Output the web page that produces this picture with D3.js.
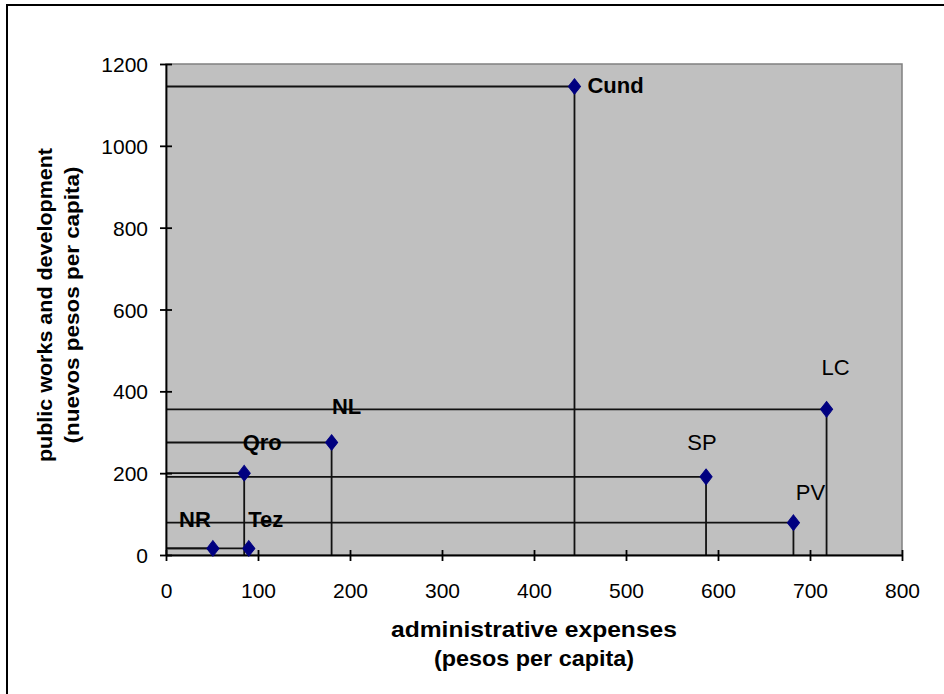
<!DOCTYPE html>
<html>
<head>
<meta charset="utf-8">
<script src="https://cdn.jsdelivr.net/npm/d3@7"></script>
<style>
  html, body { margin: 0; padding: 0; background: #fff; }
  svg { display: block; }
  text { font-family: "Liberation Sans", Arial, sans-serif; fill: #000; }
</style>
</head>
<body>
<svg id="chart" width="944" height="694"></svg>
<script>
// ---- data ----
const names = ["Cund", "LC", "SP", "PV", "NL", "Qro", "NR", "Tez"];
const adminExpenses = [444, 718, 587, 682, 180, 85, 51, 90];
const publicWorks = [1145, 356, 191, 79, 275, 200, 16, 16];
const xTicks = [0, 100, 200, 300, 400, 500, 600, 700, 800];
const yTicks = [0, 200, 400, 600, 800, 1000, 1200];
const xTitle = ["administrative expenses", "(pesos per capita)"];
const yTitle = ["public works and development", "(nuevos pesos per capita)"];

// ---- label styling (offsets from the point, in px) ----
const labelStyle = {
  Cund: { dx: 13, dy: 6, anchor: "start", weight: "bold" },
  LC:   { dx: 9, dy: -34, anchor: "middle", weight: "normal" },
  SP:   { dx: -4, dy: -27, anchor: "middle", weight: "normal" },
  PV:   { dx: 17, dy: -23, anchor: "middle", weight: "normal" },
  NL:   { dx: 15, dy: -28, anchor: "middle", weight: "bold" },
  Qro:  { dx: 18, dy: -23, anchor: "middle", weight: "bold" },
  NR:   { dx: -18, dy: -21, anchor: "middle", weight: "bold" },
  Tez:  { dx: 17, dy: -21, anchor: "middle", weight: "bold" }
};

const svg = d3.select("#chart");
const plot = { left: 166, right: 902, top: 64, bottom: 555 };

// outer chart frame
svg.append("rect")
  .attr("x", 7).attr("y", 5).attr("width", 1000).attr("height", 1000)
  .attr("fill", "none").attr("stroke", "#000").attr("stroke-width", 2);

const x = d3.scaleLinear().domain([0, 800]).range([plot.left, plot.right]);
const y = d3.scaleLinear().domain([0, 1200]).range([plot.bottom, plot.top]);

// plot background
svg.append("rect")
  .attr("x", plot.left).attr("y", plot.top)
  .attr("width", plot.right - plot.left).attr("height", plot.bottom - plot.top)
  .attr("fill", "#c0c0c0").attr("stroke", "#808080").attr("stroke-width", 1.5);

const pts = names.map((n, i) => ({ name: n, x: adminExpenses[i], y: publicWorks[i] }));

// drop lines
const lines = svg.append("g").attr("stroke", "#111").attr("stroke-width", 1.8);
pts.forEach(p => {
  lines.append("line")
    .attr("x1", x(0)).attr("x2", x(p.x))
    .attr("y1", y(p.y)).attr("y2", y(p.y));
  lines.append("line")
    .attr("x1", x(p.x)).attr("x2", x(p.x))
    .attr("y1", y(p.y)).attr("y2", y(0));
});

// axes
const fmt = d3.format("d");
const xAxis = d3.axisBottom(x).tickValues(xTicks).tickFormat(fmt).tickSize(0).tickPadding(0);
const gx = svg.append("g").attr("transform", `translate(0,${plot.bottom})`).call(xAxis);
gx.select(".domain").attr("stroke", "#000").attr("stroke-width", 1.8);
gx.selectAll(".tick line").attr("y1", -5).attr("y2", 6).attr("stroke", "#000").attr("stroke-width", 1.8);
gx.selectAll(".tick text")
  .attr("y", 43).attr("dy", null)
  .style("font-size", "21px").style("font-family", "'Liberation Sans', Arial, sans-serif");

const yAxis = d3.axisLeft(y).tickValues(yTicks).tickFormat(fmt).tickSize(0).tickPadding(0);
const gy = svg.append("g").attr("transform", `translate(${plot.left},0)`).call(yAxis);
gy.select(".domain").attr("stroke", "#000").attr("stroke-width", 1.8);
gy.selectAll(".tick line").attr("x1", -6).attr("x2", 6).attr("stroke", "#000").attr("stroke-width", 1.8);
gy.selectAll(".tick text")
  .attr("x", -18).attr("dy", "0.36em")
  .style("font-size", "21px").style("font-family", "'Liberation Sans', Arial, sans-serif");

// markers
const diamond = d3.symbol().type(d3.symbolDiamond).size(70);
svg.append("g").selectAll("path").data(pts).join("path")
  .attr("d", diamond)
  .attr("transform", d => `translate(${x(d.x)},${y(d.y)}) scale(1.35,1)`)
  .attr("fill", "#000080").attr("stroke", "#000080").attr("stroke-width", 0.8);

// point labels
svg.append("g").selectAll("text").data(pts).join("text")
  .attr("x", d => x(d.x) + labelStyle[d.name].dx)
  .attr("y", d => y(d.y) + labelStyle[d.name].dy)
  .attr("text-anchor", d => labelStyle[d.name].anchor)
  .style("font-weight", d => labelStyle[d.name].weight)
  .style("font-size", "22px")
  .text(d => d.name);

// axis titles
const cx = (plot.left + plot.right) / 2;
svg.append("text").attr("x", cx).attr("y", 637).attr("text-anchor", "middle")
  .style("font-weight", "bold").style("font-size", "22px")
  .attr("textLength", 286).attr("lengthAdjust", "spacingAndGlyphs")
  .text(xTitle[0]);
svg.append("text").attr("x", cx).attr("y", 666).attr("text-anchor", "middle")
  .style("font-weight", "bold").style("font-size", "22px")
  .attr("textLength", 200).attr("lengthAdjust", "spacingAndGlyphs")
  .text(xTitle[1]);

const cy = 305;
svg.append("text").attr("transform", `translate(52,${cy}) rotate(-90)`).attr("text-anchor", "middle")
  .style("font-weight", "bold").style("font-size", "21px")
  .attr("textLength", 314).attr("lengthAdjust", "spacingAndGlyphs")
  .text(yTitle[0]);
svg.append("text").attr("transform", `translate(79,${cy}) rotate(-90)`).attr("text-anchor", "middle")
  .style("font-weight", "bold").style("font-size", "21px")
  .attr("textLength", 277).attr("lengthAdjust", "spacingAndGlyphs")
  .text(yTitle[1]);
</script>
</body>
</html>
